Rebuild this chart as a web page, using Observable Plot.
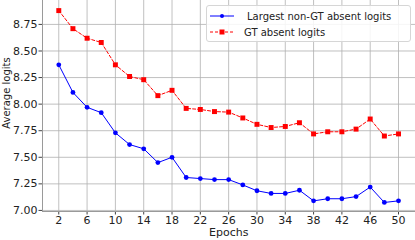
<!DOCTYPE html>
<html><head><meta charset="utf-8">
<script src="https://cdn.jsdelivr.net/npm/d3@7"></script>
<script src="https://cdn.jsdelivr.net/npm/@observablehq/plot@0.6"></script>
<style>
body{margin:0;background:#fff;font-family:"DejaVu Sans",sans-serif;}
#wrap{position:relative;width:415px;height:240px;}
#legend{position:absolute;left:206px;top:5px;width:203px;height:35px;border:1px solid #d6d6d6;border-radius:3px;background:rgba(255,255,255,0.85);font-size:10px;color:#222;}
.row{position:absolute;left:2px;height:14px;display:flex;align-items:center;}
.axlab{position:absolute;font-size:11px;line-height:11px;color:#222;white-space:nowrap;}
</style></head>
<body><div id="wrap"></div>
<script>
const epochs = [2,4,6,8,10,12,14,16,18,20,22,24,26,28,30,32,34,36,38,40,42,44,46,48,50];
const largestNonGT = [8.37,8.11,7.97,7.92,7.73,7.62,7.58,7.45,7.50,7.31,7.30,7.29,7.29,7.24,7.185,7.16,7.16,7.19,7.09,7.11,7.11,7.13,7.22,7.075,7.09];
const gtAbsent = [8.88,8.71,8.62,8.58,8.37,8.26,8.23,8.08,8.13,7.96,7.95,7.93,7.925,7.87,7.81,7.78,7.79,7.825,7.72,7.74,7.74,7.765,7.86,7.70,7.72];
const xTicks = [2,6,10,14,18,22,26,30,34,38,42,46,50];
const yTicks = [7.00,7.25,7.50,7.75,8.00,8.25,8.50,8.75];
const seriesNames = ["Largest non-GT absent logits","GT absent logits"];
const xLabel = "Epochs";
const yLabel = "Average logits";

const blue = epochs.map((e,i)=>({epoch:e, v:largestNonGT[i]}));
const red = epochs.map((e,i)=>({epoch:e, v:gtAbsent[i]}));

const chart = Plot.plot({
  width:415, height:240,
  marginLeft:42, marginRight:0, marginTop:0, marginBottom:29,
  style:{fontFamily:"DejaVu Sans", fontSize:"11px", color:"#222", background:"#fff"},
  x:{domain:[-0.3,52.4], label:null},
  y:{domain:[6.99,8.975], label:null},
  marks:[
    Plot.gridX(xTicks,{stroke:"#b0b0b0", strokeOpacity:0.8, strokeWidth:1}),
    Plot.gridY(yTicks,{stroke:"#b0b0b0", strokeOpacity:0.8, strokeWidth:1}),
    Plot.axisX({ticks:xTicks, tickSize:3.5, tickPadding:1, label:null, stroke:"#444"}),
    Plot.axisY({ticks:yTicks, tickSize:3.5, tickPadding:1.5, tickFormat:d3.format(".2f"), label:null, stroke:"#444"}),
    Plot.ruleX([-0.3],{stroke:"#9a9a9a"}),
    Plot.ruleY([6.99],{stroke:"#9a9a9a"}),
    Plot.line(red,{x:"epoch", y:"v", stroke:"#ff0000", strokeWidth:1, strokeDasharray:"3,2"}),
    Plot.dot(red,{x:"epoch", y:"v", symbol:"square", r:2.8, fill:"#ff0000", stroke:"none"}),
    Plot.line(blue,{x:"epoch", y:"v", stroke:"#0000ff", strokeWidth:1}),
    Plot.dot(blue,{x:"epoch", y:"v", r:2.4, fill:"#0000ff", stroke:"none"})
  ]
});
const wrap = document.getElementById("wrap");
wrap.appendChild(chart);

const xl = document.createElement("div");
xl.className = "axlab"; xl.textContent = xLabel;
xl.style.left = "209px"; xl.style.top = "227px";
wrap.appendChild(xl);
const yl = document.createElement("div");
yl.className = "axlab"; yl.textContent = yLabel;
yl.style.fontSize = "10px";
yl.style.left = "6px"; yl.style.top = "93px";
yl.style.transform = "translate(-50%,-50%) rotate(-90deg)";
wrap.appendChild(yl);

const legend = document.createElement("div");
legend.id = "legend";
legend.innerHTML = `
<div class="row" style="top:3px"><svg width="30" height="10"><line x1="1" y1="5" x2="25" y2="5" stroke="#0000ff" stroke-width="1"/><circle cx="13" cy="5" r="2" fill="#0000ff"/></svg><span style="margin-left:8px">${seriesNames[0]}</span></div>
<div class="row" style="top:19px"><svg width="30" height="10"><line x1="1" y1="5" x2="25" y2="5" stroke="#ff0000" stroke-width="1" stroke-dasharray="3,2"/><rect x="10.5" y="2.5" width="5" height="5" fill="#ff0000"/></svg><span style="margin-left:5px">${seriesNames[1]}</span></div>`;
wrap.appendChild(legend);
</script></body></html>
